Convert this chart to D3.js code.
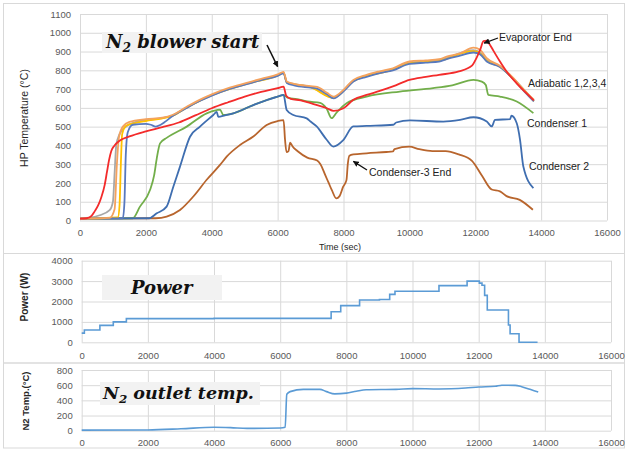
<!DOCTYPE html>
<html>
<head>
<meta charset="utf-8">
<script src="https://cdn.jsdelivr.net/npm/d3@7"></script>
<style>
  body { margin: 0; background: #fff; }
  svg { display: block; }
</style>
</head>
<body>
<div id="chart"></div>
<script>
// heat pipe start-up test: temps, heater power, N2 outlet temp
// [time (s), value] pairs

const evaporator = [[0,10],[200,12],[350,25],[450,50],[550,80],[650,125],[750,190],[820,260],[880,320],[950,370],[1050,400],[1200,425],[1500,448],[2000,475],[2500,497],[3000,522],[3500,560],[4000,598],[4500,630],[5000,660],[5500,685],[6000,705],[6180,713],[6260,665],[6400,648],[6700,640],[7000,625],[7200,615],[7500,598],[7700,584],[8000,598],[8300,643],[8700,669],[9100,690],[9500,714],[10000,749],[10500,765],[10900,776],[11500,794],[11900,825],[12050,870],[12150,910],[12250,955],[12350,958],[12450,935],[12550,905],[12750,847],[12950,794],[13250,732],[13550,678],[13780,640]]

const adiabatic1 = [[0,12],[300,15],[600,28],[900,55],[1000,100],[1050,250],[1100,400],[1200,460],[1400,500],[1700,525],[2000,535],[2500,545],[2800,558],[3240,602],[4000,668],[5060,729],[6000,774],[6180,788],[6280,736],[7000,712],[7700,655],[8300,744],[9500,806],[10000,840],[10900,853],[11945,908],[12150,895],[12350,855],[12750,820],[13160,755],[13780,638]]
const adiabatic2 = [[0,10],[1150,16],[1200,80],[1240,300],[1280,460],[1400,505],[1700,520],[2000,530],[2500,544],[2800,557],[3240,601],[4000,667],[5060,728],[6000,772],[6180,786],[6280,735],[7000,710],[7700,653],[8300,742],[9500,803],[10000,837],[10900,850],[11945,902],[12150,890],[12350,850],[12750,819],[13160,753],[13780,636]]
const adiabatic3 = [[0,10],[1300,12],[1350,100],[1390,350],[1450,470],[1600,510],[2000,515],[2150,510],[2300,500],[2450,510],[2600,528],[2800,555],[3240,600],[3600,634],[4000,665],[4500,698],[5060,726],[5500,748],[6000,770],[6180,784],[6280,733],[6500,720],[7000,708],[7200,703],[7500,672],[7700,651],[8000,688],[8300,740],[8700,765],[9100,785],[9500,800],[10000,834],[10500,841],[10900,847],[11130,860],[11540,878],[11945,895],[12150,885],[12350,847],[12750,818],[13160,752],[13500,685],[13780,634]]
const adiabatic4 = [[0,10],[900,14],[1050,60],[1120,300],[1180,440],[1300,500],[1500,525],[2000,540],[2500,548],[2800,562],[3240,606],[3600,640],[4000,672],[4500,705],[5060,733],[5500,755],[6000,778],[6180,792],[6280,740],[6500,728],[7000,716],[7200,712],[7500,680],[7700,660],[8000,696],[8300,749],[8700,776],[9100,795],[9500,811],[10000,847],[10500,853],[10900,859],[11130,873],[11540,891],[11945,921],[12147,909],[12350,865],[12750,824],[13160,758],[13500,690],[13780,643]]

const condenser1 = [[0,10],[1600,12],[1820,74],[2125,162],[2250,240],[2330,330],[2430,411],[2630,440],[3240,500],[3846,571],[4150,588],[4250,591],[4350,562],[4655,571],[5262,615],[6000,660],[6180,668],[6300,655],[6700,643],[6900,634],[7290,627],[7490,595],[7640,545],[7790,575],[8093,625],[8700,660],[9710,687],[10720,705],[11300,720],[11945,749],[12200,740],[12320,722],[12396,669],[12750,660],[13260,634],[13765,572]]
const condenser2 = [[0,10],[2100,12],[2330,38],[2630,74],[2833,180],[3036,287],[3340,446],[3643,500],[4047,562],[4150,578],[4200,552],[4400,560],[4655,571],[5262,615],[6000,660],[6180,669],[6275,589],[6477,562],[6883,544],[7000,527],[7185,501],[7490,430],[7690,394],[8000,430],[8297,501],[8700,504],[9513,510],[9600,522],[10020,533],[11030,527],[11540,536],[11945,550],[12350,527],[12500,501],[12600,536],[13055,540],[13100,558],[13260,518],[13360,430],[13460,288],[13765,172]]
const condenser3 = [[0,10],[2300,12],[2630,21],[3036,56],[3441,128],[3846,217],[4250,296],[4453,340],[4858,402],[5262,447],[5667,509],[6000,530],[6180,535],[6225,430],[6270,365],[6330,370],[6380,415],[6450,395],[6600,370],[6900,335],[7200,320],[7300,300],[7450,240],[7550,200],[7650,160],[7780,118],[7880,130],[7990,180],[8090,215],[8130,300],[8180,345],[8300,352],[8700,358],[9300,365],[9500,368],[9550,380],[10000,393],[10300,380],[10700,370],[11100,370],[11500,352],[11900,318],[12200,240],[12500,165],[12750,155],[12950,130],[13350,110],[13750,57]]

// heater power, held until next entry (step)
const power = [[0,450],[80,600],[550,830],[955,1000],[1350,1160],[4000,1175],[7540,1500],[7830,1800],[8400,2070],[9000,2100],[9310,2350],[9470,2500],[10800,2780],[11650,3000],[12020,2900],[12100,2800],[12180,2300],[12260,1580],[12900,850],[12950,420],[13220,0],[13780,0]]

const n2Outlet = [[0,8],[2000,10],[3000,25],[4000,45],[4500,40],[5000,30],[6000,35],[6150,45],[6200,480],[6300,515],[6700,545],[7200,545],[7400,515],[7650,485],[8000,495],[8300,520],[8600,540],[9500,545],[10000,555],[10800,550],[11600,562],[12000,575],[12500,585],[12700,600],[13100,598],[13300,580],[13550,545],[13800,510]]

const timeTicks = [0,2000,4000,6000,8000,10000,12000,14000,16000]
const tempTicks = [0,100,200,300,400,500,600,700,800,900,1000,1100]
const powerTicks = [0,1000,2000,3000,4000]
const n2Ticks = [0,200,400,600,800]

// drawing order = excel series order, red ends up on top
const topSeries = [
  { name: 'Condenser 3', data: condenser3, color: '#B8652D' },
  { name: 'Condenser 1', data: condenser1, color: '#72AE4A' },
  { name: 'Condenser 2', data: condenser2, color: '#3F6EB0' },
  { name: 'Adiabatic 1', data: adiabatic1, color: '#A8A8A8' },
  { name: 'Adiabatic 2', data: adiabatic2, color: '#FFC000' },
  { name: 'Adiabatic 3', data: adiabatic3, color: '#5879BE' },
  { name: 'Adiabatic 4', data: adiabatic4, color: '#F4A25E' },
  { name: 'Evaporator', data: evaporator, color: '#F32B2B' }
]

const W = 628, H = 454
const gridColor = '#d9d9d9'
const tickFont = '"Liberation Sans", Arial, sans-serif'
const serif = '"DejaVu Serif", serif'

const svg = d3.select('#chart').append('svg')
  .attr('width', W)
  .attr('height', H)

svg.append('defs').append('marker')
  .attr('id', 'arrow')
  .attr('viewBox', '0 0 10 10')
  .attr('refX', 9).attr('refY', 5)
  .attr('markerWidth', 6).attr('markerHeight', 6)
  .attr('markerUnits', 'userSpaceOnUse')
  .attr('orient', 'auto')
  .append('path')
  .attr('d', 'M0,0L10,5L0,10Z')
  .attr('fill', '#111')

// panel frames
const frames = [[3.5, 3.5, 621, 250], [3.5, 253.5, 621, 109.5], [3.5, 363, 621, 85]]
svg.selectAll('rect.frame')
  .data(frames).enter().append('rect')
  .attr('class', 'frame')
  .attr('x', d => d[0]).attr('y', d => d[1])
  .attr('width', d => d[2]).attr('height', d => d[3])
  .attr('fill', 'none')
  .attr('stroke', gridColor)

// one helper for all three panels
function panel(opts) {
  const x = d3.scaleLinear().domain([0, 16000]).range(opts.xr)
  const y = d3.scaleLinear().domain(opts.yd).range(opts.yr)
  const g = svg.append('g')

  const yAxis = g.append('g')
    .attr('transform', `translate(${opts.xr[0]},0)`)
    .call(d3.axisLeft(y).tickValues(opts.yTicks).tickSize(-(opts.xr[1] - opts.xr[0])).tickPadding(9).tickFormat(d3.format('d')))
  const xAxis = g.append('g')
    .attr('transform', `translate(0,${opts.yr[0]})`)
    .call(d3.axisBottom(x).tickValues(timeTicks).tickSize(-(opts.yr[0] - opts.yr[1])).tickPadding(opts.xPad).tickFormat(d3.format('d')))

  ;[yAxis, xAxis].forEach(a => {
    a.select('.domain').remove()
    a.selectAll('line').attr('stroke', gridColor)
    a.selectAll('text')
      .attr('fill', '#595959')
      .style('font-family', tickFont)
      .style('font-size', '9.5px')
  })

  g.append('text')
    .attr('transform', `translate(${opts.titleX},${opts.titleY}) rotate(-90)`)
    .attr('text-anchor', 'middle')
    .attr('fill', '#262626')
    .style('font-family', tickFont)
    .style('font-size', opts.titleSize)
    .style('font-weight', opts.titleWeight)
    .text(opts.title)

  return { x, y, g }
}

const tempPanel = panel({
  xr: [80, 607], yr: [220.5, 14], yd: [0, 1100], yTicks: tempTicks, xPad: 9,
  title: 'HP Temperature (°C)', titleX: 28, titleY: 118, titleSize: '10.5px', titleWeight: 'normal'
})
const powPanel = panel({
  xr: [81.7, 611], yr: [342.3, 260.7], yd: [0, 4000], yTicks: powerTicks, xPad: 10,
  title: 'Power (W)', titleX: 28, titleY: 297, titleSize: '10px', titleWeight: 'bold'
})
const n2Panel = panel({
  xr: [81.7, 611], yr: [430.7, 370], yd: [0, 800], yTicks: n2Ticks, xPad: 9,
  title: 'N2 Temp.(°C)', titleX: 29, titleY: 401, titleSize: '9.5px', titleWeight: 'bold'
})

tempPanel.g.append('text')
  .attr('x', 340).attr('y', 250)
  .attr('text-anchor', 'middle')
  .attr('fill', '#262626')
  .style('font-family', tickFont)
  .style('font-size', '9px')
  .text('Time (sec)')

// temperature lines
const tempLine = d3.line().curve(d3.curveMonotoneX).x(d => tempPanel.x(d[0])).y(d => tempPanel.y(d[1]))
tempPanel.g.selectAll('path.series')
  .data(topSeries).enter().append('path')
  .attr('class', 'series')
  .attr('d', d => tempLine(d.data))
  .attr('fill', 'none')
  .attr('stroke', d => d.color)
  .attr('stroke-width', 1.8)
  .attr('stroke-linejoin', 'round')

powPanel.g.append('path')
  .attr('d', d3.line().curve(d3.curveStepAfter).x(d => powPanel.x(d[0])).y(d => powPanel.y(d[1]))(power))
  .attr('fill', 'none')
  .attr('stroke', '#5B9BD5')
  .attr('stroke-width', 1.6)

n2Panel.g.append('path')
  .attr('d', d3.line().curve(d3.curveMonotoneX).x(d => n2Panel.x(d[0])).y(d => n2Panel.y(d[1]))(n2Outlet))
  .attr('fill', 'none')
  .attr('stroke', '#5B9BD5')
  .attr('stroke-width', 1.6)

// grey label boxes with the big italic captions
function caption(box, tx, ty, size, main, sub, rest) {
  svg.append('rect')
    .attr('x', box[0]).attr('y', box[1])
    .attr('width', box[2]).attr('height', box[3])
    .attr('fill', '#f2f2f2')
  const t = svg.append('text')
    .attr('x', tx).attr('y', ty)
    .attr('fill', '#111')
    .style('font-family', serif)
    .style('font-style', 'italic')
    .style('font-weight', 'bold')
    .style('font-size', size + 'px')
  t.append('tspan').text(main)
  if (sub) {
    t.append('tspan').attr('dy', 4).style('font-size', (size * 0.68) + 'px').text(sub)
    t.append('tspan').attr('dy', -4).text(rest)
  }
}

caption([102, 32, 160, 21], 106, 48, 18, 'N', '2', ' blower start')
caption([102, 275, 120, 25], 131, 294, 18, 'Power')
caption([100, 382, 160, 23], 103, 399, 17.5, 'N', '2', ' outlet temp.')

// annotation text + arrows on the temperature panel
const notes = [
  { text: 'Evaporator End', x: 499, y: 41 },
  { text: 'Adiabatic 1,2,3,4', x: 528, y: 87 },
  { text: 'Condenser 1', x: 527, y: 127 },
  { text: 'Condenser 2', x: 529, y: 170 },
  { text: 'Condenser-3 End', x: 369, y: 176 }
]
svg.selectAll('text.note')
  .data(notes).enter().append('text')
  .attr('class', 'note')
  .attr('x', d => d.x).attr('y', d => d.y)
  .attr('fill', '#222')
  .style('font-family', tickFont)
  .style('font-size', '10.5px')
  .text(d => d.text)

// arrows point at the spots on the curves
const arrows = [
  { from: [267, 45], at: [6000, 820], w: 1.5 },
  { from: [498, 38], at: [12270, 945], w: 1.3 },
  { from: [367, 170], at: [8300, 315], w: 1.3 }
]
svg.selectAll('line.arrow')
  .data(arrows).enter().append('line')
  .attr('class', 'arrow')
  .attr('x1', d => d.from[0]).attr('y1', d => d.from[1])
  .attr('x2', d => tempPanel.x(d.at[0])).attr('y2', d => tempPanel.y(d.at[1]))
  .attr('stroke', '#111')
  .attr('stroke-width', d => d.w)
  .attr('marker-end', 'url(#arrow)')
</script>
</body>
</html>
